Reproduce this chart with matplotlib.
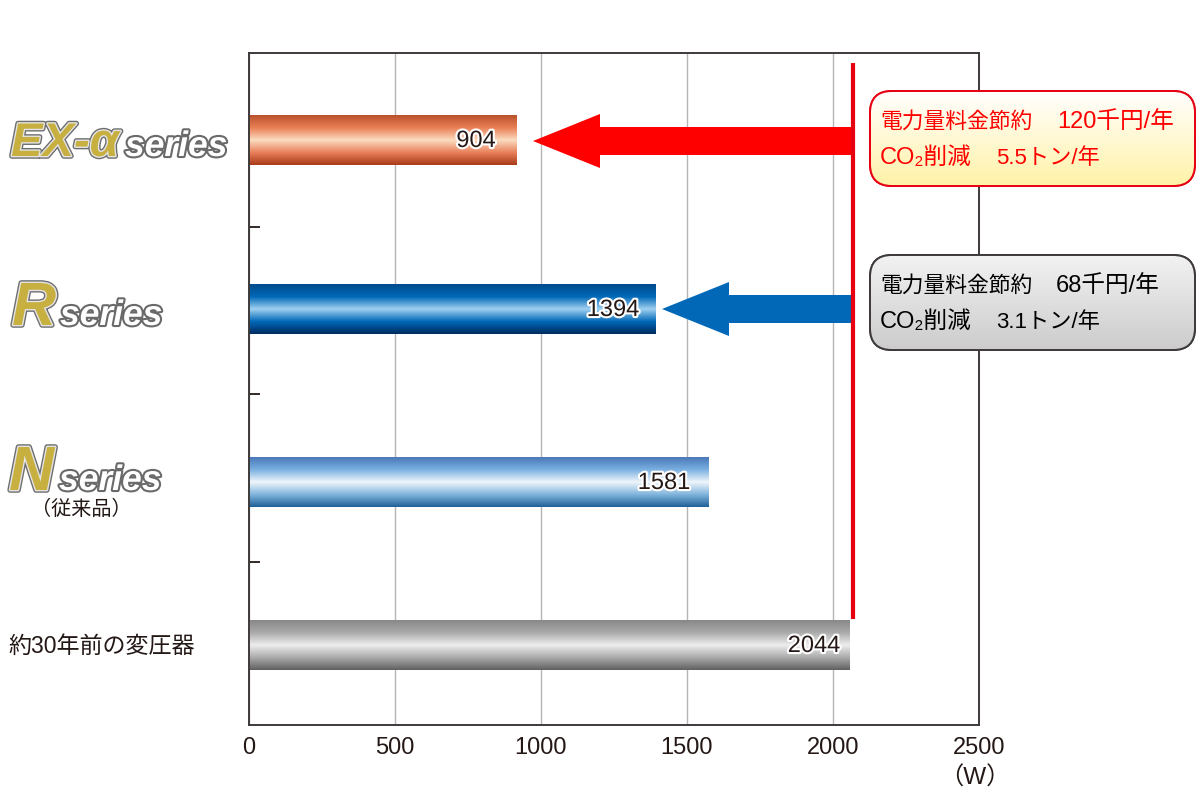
#Import necessary libraries
import numpy as np
import matplotlib.pyplot as plt
import matplotlib.patheffects as pe
from matplotlib.colors import LinearSegmentedColormap
from matplotlib.patches import FancyBboxPatch, Polygon

plt.rcParams['font.family'] = ['Liberation Sans', 'Noto Sans CJK JP']

#Values
bar_lengths = [915, 1392, 1573, 2058]
bar_labels = ['904', '1394', '1581', '2044']
x_ticks = [0, 500, 1000, 1500, 2000, 2500]
saving_red = ['電力量料金節約', '120千円/年', 'CO₂削減', '5.5トン/年']
saving_grey = ['電力量料金節約', '68千円/年', 'CO₂削減', '3.1トン/年']

#Pixel rows of the figure, the y axis has no scale of its own
bar_y = [140, 309, 482, 645]
tick_y = [227, 394, 562]
label_x = [476, 613, 664, 814]
ink = '#231815'

bar_cmaps = [
    ['#b8502c', '#e87f55', '#fbdcc0', '#e8805a', '#a83a1a'],
    ['#004a8c', '#0068b7', '#9fd0f0', '#0068b7', '#002a60'],
    ['#4a78b8', '#7ab0e0', '#f0f6fb', '#80b4dc', '#1f6098'],
    ['#888888', '#aaaaaa', '#eeeeee', '#aaaaaa', '#606060'],
]
grad = np.linspace(0, 1, 256).reshape(-1, 1)

fig = plt.figure(figsize=(12, 8), dpi=100)
ax = fig.add_axes([249/1200, 1-725/800, 730/1200, 672/800])

##################################################
##  Bars with a vertical gradient
##################################################
bars = ax.barh(bar_y, bar_lengths, height=50, left=0, color='none', zorder=2)
for bar, cols in zip(bars, bar_cmaps):
    cmap = LinearSegmentedColormap.from_list('bar', cols)
    im = ax.imshow(grad, cmap=cmap, aspect='auto', zorder=2,
                   extent=[0, bar.get_width(), bar.get_y()+bar.get_height(), bar.get_y()])
    im.set_clip_path(bar)

ax.set_xlim(0, 2500)
ax.set_ylim(725, 53)
ax.set_xticks(x_ticks)
ax.set_yticks(tick_y)
ax.set_yticklabels([])
ax.tick_params(axis='x', length=0, pad=9, labelsize=17, labelcolor=ink)
ax.tick_params(axis='y', direction='in', length=8, width=1.3, color=ink)
ax.grid(axis='x', color='#b5b5b6', lw=1, zorder=1)
ax.set_axisbelow(True)
for s in ax.spines.values():
    s.set_linewidth(1.4)
    s.set_color('#3e3a39')

##################################################
##  Overlay in pixels for arrows, boxes and text
##################################################
ov = fig.add_axes([0, 0, 1, 1])
ov.axis('off')
ov.patch.set_alpha(0)

halo = [pe.withStroke(linewidth=3, foreground='white')]
for x, y, s in zip(label_x, bar_y, bar_labels):
    ov.text(x, y+1, s, ha='center', va='center', fontsize=17, color=ink, path_effects=halo)

ov.plot([853, 853], [63, 619], color='#e60012', lw=3, solid_capstyle='butt', zorder=3)
ov.add_patch(Polygon([(533, 141), (600, 114), (600, 127), (851, 127), (851, 155), (600, 155), (600, 168)],
                     fc='#ff0000', ec='none', zorder=2))
ov.add_patch(Polygon([(662, 309), (729, 282), (729, 295), (851, 295), (851, 323), (729, 323), (729, 336)],
                     fc='#0068b7', ec='none', zorder=2))

def saving_box(top, edge, cols, lines, color, money_x):
    box = FancyBboxPatch((870, top), 325, 95, boxstyle='round,pad=0,rounding_size=22',
                         fc='white', ec=edge, lw=1.4, zorder=4)
    ov.add_patch(box)
    im = ov.imshow(grad, cmap=LinearSegmentedColormap.from_list('box', cols), aspect='auto',
                   extent=[870, 1195, top+95, top], zorder=4.5)
    im.set_clip_path(box)
    ov.add_patch(FancyBboxPatch((870, top), 325, 95, boxstyle='round,pad=0,rounding_size=22',
                                fc='none', ec=edge, lw=1.4, zorder=5))
    ov.text(880, top+31, lines[0], fontsize=15.7, color=color, va='center', zorder=6)
    ov.text(money_x, top+31, lines[1], fontsize=17, color=color, va='center', zorder=6)
    ov.text(880, top+67, lines[2], fontsize=17, color=color, va='center', zorder=6)
    ov.text(996, top+67, lines[3], fontsize=16, color=color, va='center', zorder=6)

saving_box(91, '#e60012', ['#ffffff', '#fff2a8'], saving_red, '#ff0000', 1057)
saving_box(255, '#3e3a39', ['#f2f2f2', '#cccccc'], saving_grey, '#000000', 1056)
ov.set_xlim(0, 1200)
ov.set_ylim(800, 0)

##################################################
##  Series names
##################################################
def logo(x, y, big, size, small_x):
    gold = [pe.withStroke(linewidth=4, foreground='#6e6e6e'), pe.withStroke(linewidth=2, foreground='#e4e4e4')]
    grey = [pe.withStroke(linewidth=3, foreground='#6a6a6a')]
    ov.text(x, y, big, fontsize=size, fontweight='bold', fontstyle='italic', color='#c8b040', va='baseline', path_effects=gold)
    ov.text(small_x, y, 'series', fontsize=25.5, fontweight='bold', fontstyle='italic', color='white', va='baseline', path_effects=grey)

logo(11, 156, 'EX-α', 34, 125)
logo(12, 325, 'R', 44, 60)
logo(9, 490, 'N', 45, 59)
ov.text(81, 509, '（従来品）', fontsize=14.5, color=ink, ha='center', va='center')
ov.text(8, 646, '約30年前の変圧器', fontsize=16.6, color=ink, va='center')
ov.text(975, 778, '（W）', fontsize=17.5, color=ink, ha='center', va='center')

plt.savefig('out.png', dpi=100)
